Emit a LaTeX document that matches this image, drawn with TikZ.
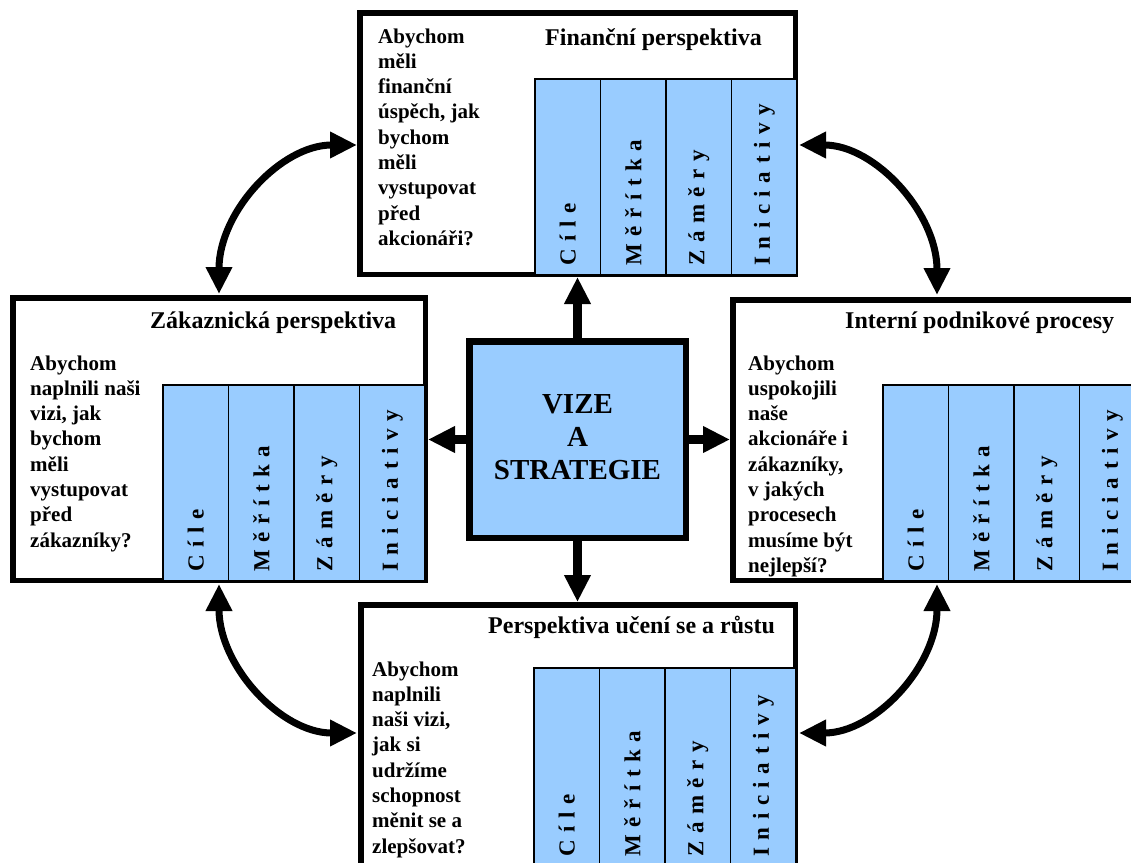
\documentclass[tikz,border=0pt]{standalone}
\usepackage{fontspec}
\setmainfont{Liberation Serif}
\usetikzlibrary{arrows.meta}
\definecolor{colblue}{HTML}{99CCFF}
\newcommand\lspc{\hspace{7.6pt}}
\newcommand\qlines[1]{\begin{tabular}[t]{@{}l@{}}#1\end{tabular}}
\newcommand\clines[1]{\begin{tabular}[t]{@{}c@{}}#1\end{tabular}}
\tikzset{
  pbox/.style={draw=black, line width=5.5pt, fill=white, inner sep=0pt},
  cbox/.style={draw=black, line width=6.5pt, fill=colblue, inner sep=0pt},
  colrect/.style={draw=black, line width=1.1pt, fill=colblue, inner sep=0pt, outer sep=0pt, minimum width=65.5pt},
  collab/.style={rotate=90, anchor=west, inner sep=0pt, font=\fontsize{23}{23}\selectfont\bfseries},
  ptitle/.style={anchor=base west, inner sep=0pt, font=\fontsize{24}{28}\selectfont\bfseries},
  pquest/.style={anchor=base west, inner sep=0pt, font=\fontsize{21}{25.3}\selectfont\bfseries},
  vtext/.style={anchor=base, inner sep=0pt, font=\fontsize{29}{33}\selectfont\bfseries},
  fatarrow/.style={line width=9pt, -{Triangle[length=27pt,width=25pt]}},
  curvarrow/.style={line width=7pt, {Triangle[length=27pt,width=25pt]}-{Triangle[length=27pt,width=25pt]}},
}
% one column: name, left x, top y, bottom y, label
\newcommand\onecol[5]{%
  \node[colrect, minimum height={#4-#3}] (#1) at ({#2+32.75},{(#3+#4)/2}) {};
  \node[collab] at ([yshift=9pt]#1.south) {#5};
}
% group of four columns: prefix, left x, top y, bottom y
\newcommand\colgroup[4]{%
  \onecol{#1a}{#2}{#3}{#4}{C\lspc í\lspc l\lspc e}
  \onecol{#1b}{#2+65.5}{#3}{#4}{M\lspc ě\lspc ř\lspc í\lspc t\lspc k\lspc a}
  \onecol{#1c}{#2+131}{#3}{#4}{Z\lspc á\lspc m\lspc ě\lspc r\lspc y}
  \onecol{#1d}{#2+196.5}{#3}{#4}{I\lspc n\lspc i\lspc c\lspc i\lspc a\lspc t\lspc i\lspc v\lspc y}
}
\begin{document}
\begin{tikzpicture}[x=1pt, y=-1pt]
  \useasboundingbox (0,0) rectangle (1131,862);
  \clip (0,0) rectangle (1131,862);
  \fill[white] (0,0) rectangle (1131,862);

  % perspective boxes
  \node[pbox, minimum width=435.5pt, minimum height=261.5pt] (T) at (577.5,143.5) {};
  \node[pbox, minimum width=412.5pt, minimum height=282.5pt] (L) at (219,439) {};
  \node[pbox, minimum width=412.5pt, minimum height=280.5pt] (R) at (939,440) {};
  \node[pbox, minimum width=434.5pt, minimum height=261.5pt] (B) at (578,735.5) {};
  \node[cbox, minimum width=216.5pt, minimum height=196.5pt] (C) at (577.5,439.5) {};

  % columns
  \colgroup{T}{535}{79}{275}
  \colgroup{L}{163}{385}{581}
  \colgroup{R}{883}{385}{581}
  \colgroup{B}{534}{668}{866}

  % titles
  \node[ptitle] (Tt) at (545,45) {Finanční perspektiva};
  \node[ptitle] (Lt) at (150,328) {Zákaznická perspektiva};
  \node[ptitle] (Rt) at (845,328) {Interní podnikové procesy};
  \node[ptitle] (Bt) at (488,633) {Perspektiva učení se a růstu};

  % questions
  \node[pquest] (Tq) at (378,43) {\qlines{Abychom\\měli\\finanční\\úspěch, jak\\bychom\\měli\\vystupovat\\před\\akcionáři?}};
  \node[pquest] (Lq) at (30,370) {\qlines{Abychom\\naplnili naši\\vizi, jak\\bychom\\měli\\vystupovat\\před\\zákazníky?}};
  \node[pquest] (Rq) at (748,370) {\qlines{Abychom\\uspokojili\\naše\\akcionáře i\\zákazníky,\\v jakých\\procesech\\musíme být\\nejlepší?}};
  \node[pquest] (Bq) at (372,676) {\qlines{Abychom\\naplnili\\naši vizi,\\jak si\\udržíme\\schopnost\\měnit se a\\zlepšovat?}};

  % center text
  \node[vtext] (Ct) at (577.5,413) {\clines{VIZE\\A\\STRATEGIE}};

  % straight arrows from the center
  \draw[fatarrow] (C.north) -- (T.south);
  \draw[fatarrow] (C.south) -- (C.south |- B.north);
  \draw[fatarrow] (C.west) -- (C.west -| L.east);
  \draw[fatarrow] (C.east) -- (C.east -| R.west);

  % curved double arrows
  \coordinate (tlA) at (219,294);
  \coordinate (tlB) at (357,145);
  \coordinate (trA) at (799,145);
  \coordinate (trB) at (937,295);
  \coordinate (blA) at (219,584);
  \coordinate (blB) at (357,733);
  \coordinate (brA) at (937,584);
  \coordinate (brB) at (799,733);
  \draw[curvarrow] (tlA) .. controls +(0,-82) and +(-76,0) .. (tlB);
  \draw[curvarrow] (trA) .. controls +(76,0) and +(0,-82) .. (trB);
  \draw[curvarrow] (blA) .. controls +(0,82) and +(-76,0) .. (blB);
  \draw[curvarrow] (brA) .. controls +(0,82) and +(76,0) .. (brB);
\end{tikzpicture}
\end{document}
